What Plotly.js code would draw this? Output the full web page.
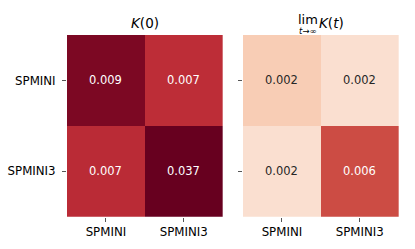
<!DOCTYPE html>
<html>
<head>
<meta charset="utf-8">
<script src="https://cdn.plot.ly/plotly-3.0.1.min.js"></script>
<style>html,body{margin:0;padding:0;background:#fff;}#chart{width:415px;height:249px;}</style>
</head>
<body>
<div id="chart"></div>
<script>
// Data
const models = ["SPMINI", "SPMINI3"];
const kZero = [[0.0093, 0.0069], [0.0070, 0.0370]];
const kLimit = [[0.0024, 0.0019], [0.0019, 0.0062]];
// Colours sampled per value (RdBu_r-like)
const kZeroColors = {"low": "#bd2d37", "mid": "#7c0823", "high": "#67001f"};
const kLimitColors = {"low": "#fadfd0", "mid": "#f8cdb5", "high": "#cc4c44"};

function scaleFor(z, cols) {
  const flat = z.flat();
  const mn = Math.min(...flat), mx = Math.max(...flat);
  const sorted = [...new Set(flat)].sort((a, b) => a - b);
  const second = sorted.find(v => v > mn + 1e-4 && v < mx) ?? mn;
  const midPos = (second - mn) / (mx - mn);
  return {zmin: mn, zmax: mx, colorscale: [[0, cols.low], [midPos, cols.mid], [1, cols.high]]};
}

const s1 = scaleFor(kZero, kZeroColors);
const s2 = scaleFor(kLimit, kLimitColors);

const traces = [
  {type: "heatmap", x: models, y: models, z: kZero, xaxis: "x", yaxis: "y",
   zmin: s1.zmin, zmax: s1.zmax, colorscale: s1.colorscale, showscale: false, hoverinfo: "skip"},
  {type: "heatmap", x: models, y: models, z: kLimit, xaxis: "x2", yaxis: "y2",
   zmin: s2.zmin, zmax: s2.zmax, colorscale: s2.colorscale, showscale: false, hoverinfo: "skip"}
];

const annotations = [];
function addCellText(z, xref, yref) {
  for (let i = 0; i < models.length; i++) {
    for (let j = 0; j < models.length; j++) {
      const v = z[i][j];
      const dark = (xref === "x") || (v > 0.004);
      annotations.push({x: models[j], y: models[i], xref: xref, yref: yref, text: v.toFixed(3),
        showarrow: false, font: {family: "DejaVu Sans", size: 11.5, color: dark ? "#ffffff" : "#262626"}});
    }
  }
}
addCellText(kZero, "x", "y");
addCellText(kLimit, "x2", "y2");

// Titles
annotations.push({xref: "paper", yref: "paper", x: 0.349, y: 0.908, text: "<i>K</i>(0)", showarrow: false,
  font: {family: "DejaVu Sans", size: 13.5, color: "#000"}, xanchor: "center", yanchor: "middle"});
annotations.push({xref: "paper", yref: "paper", x: 0.716, y: 0.922, text: "lim", showarrow: false, borderpad: 0,
  font: {family: "DejaVu Sans", size: 13, color: "#000"}, xanchor: "left", yanchor: "middle"});
annotations.push({xref: "paper", yref: "paper", x: 0.763, y: 0.908, text: "<i>K</i>(<i>t</i>)", showarrow: false,
  font: {family: "DejaVu Sans", size: 13.5, color: "#000"}, xanchor: "left", yanchor: "middle"});
annotations.push({xref: "paper", yref: "paper", x: 0.717, y: 0.874, text: "<i>t</i>→∞", showarrow: false, borderpad: 0,
  font: {family: "DejaVu Sans", size: 8.5, color: "#000"}, xanchor: "left", yanchor: "middle"});

const axBase = {showgrid: false, zeroline: false, showline: false, ticks: "outside", ticklen: 4,
  tickwidth: 1, tickcolor: "#555", tickfont: {family: "DejaVu Sans", size: 11.8, color: "#000"}};

const layout = {
  width: 415, height: 249,
  margin: {l: 0, r: 0, t: 0, b: 0},
  paper_bgcolor: "#fff", plot_bgcolor: "#fff",
  showlegend: false,
  xaxis: Object.assign({}, axBase, {domain: [0.1614, 0.5366], anchor: "y"}),
  yaxis: Object.assign({}, axBase, {domain: [0.1297, 0.8594], anchor: "x", autorange: "reversed", ticklabelstandoff: 4}),
  xaxis2: Object.assign({}, axBase, {domain: [0.5855, 0.9607], anchor: "y2"}),
  yaxis2: Object.assign({}, axBase, {domain: [0.1297, 0.8594], anchor: "x2", autorange: "reversed", showticklabels: false}),
  annotations: annotations
};

Plotly.newPlot("chart", traces, layout, {staticPlot: true, displayModeBar: false});
</script>
</body>
</html>
